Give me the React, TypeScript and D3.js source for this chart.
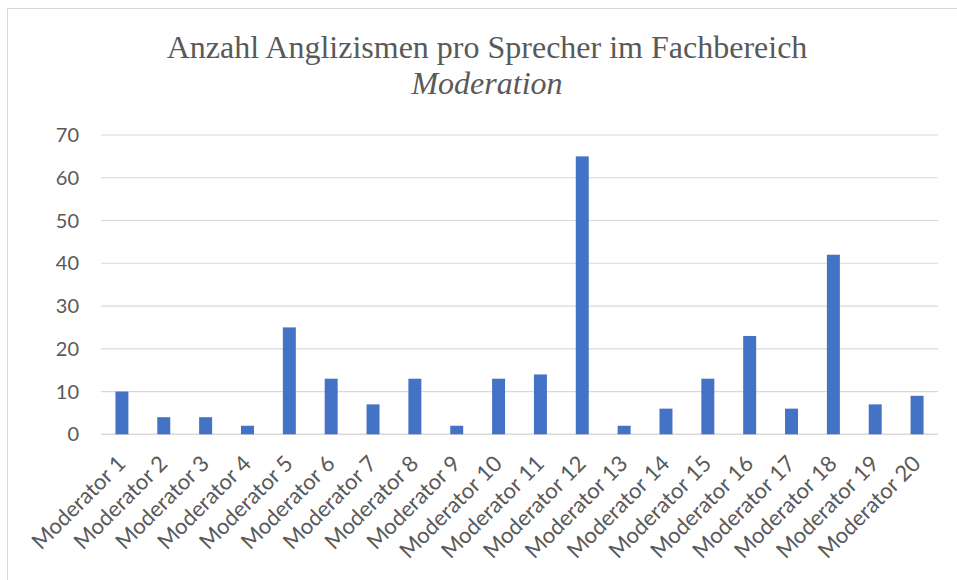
import React from "react";
import * as d3 from "d3";

const categories = [
  "Moderator 1", "Moderator 2", "Moderator 3", "Moderator 4", "Moderator 5",
  "Moderator 6", "Moderator 7", "Moderator 8", "Moderator 9", "Moderator 10",
  "Moderator 11", "Moderator 12", "Moderator 13", "Moderator 14", "Moderator 15",
  "Moderator 16", "Moderator 17", "Moderator 18", "Moderator 19", "Moderator 20",
];
const values = [10, 4, 4, 2, 25, 13, 7, 13, 2, 13, 14, 65, 2, 6, 13, 23, 6, 42, 7, 9];
const yTicks = [0, 10, 20, 30, 40, 50, 60, 70];
const titleLine1 = "Anzahl Anglizismen pro Sprecher im Fachbereich";
const titleLine2 = "Moderation";

const W = 957;
const H = 580;
const plot = { left: 101, right: 938, top: 135, bottom: 434.3 };

export default function App() {
  const x = d3
    .scaleBand<string>()
    .domain(categories)
    .range([plot.left, plot.right])
    .paddingInner(0.69)
    .paddingOuter(0.345);
  const y = d3.scaleLinear().domain([0, 70]).range([plot.bottom, plot.top]);
  const sans = "Lato, 'Open Sans', sans-serif";
  const serif = "'Liberation Serif', 'Times New Roman', serif";
  return (
    <svg
      width={W}
      height={H}
      style={{ position: "absolute", left: 0, top: 0, background: "#fff" }}
    >
      <rect x={7.5} y={8.5} width={W + 10} height={H + 10} fill="#fff" stroke="#d9d9d9" strokeWidth={1} />
      <text x={487} y={58} textAnchor="middle" fontFamily={serif} fontSize={32} fill="#595959">
        {titleLine1}
      </text>
      <text x={487} y={94} textAnchor="middle" fontFamily={serif} fontSize={32} fontStyle="italic" fill="#595959">
        {titleLine2}
      </text>
      {yTicks.map((t) => (
        <g key={t}>
          <line x1={plot.left} x2={plot.right} y1={y(t)} y2={y(t)} stroke="#d9d9d9" strokeWidth={t === 0 ? 1.5 : 1.2} />
          <text x={79} y={y(t)} dy="0.35em" textAnchor="end" fontFamily={sans} fontSize={20} fill="#595959">
            {t}
          </text>
        </g>
      ))}
      {categories.map((c, i) => (
        <rect
          key={c}
          x={x(c)}
          y={y(values[i])}
          width={x.bandwidth()}
          height={y(0) - y(values[i])}
          fill="#4472C4"
        />
      ))}
      {categories.map((c) => {
        const cx = (x(c) as number) + x.bandwidth() / 2;
        const px = cx + 5;
        const py = 465;
        return (
          <text
            key={"l" + c}
            x={px}
            y={py}
            transform={`rotate(-45 ${px} ${py})`}
            textAnchor="end"
            fontFamily={sans}
            fontSize={22}
            fill="#595959"
          >
            {c}
          </text>
        );
      })}
    </svg>
  );
}
